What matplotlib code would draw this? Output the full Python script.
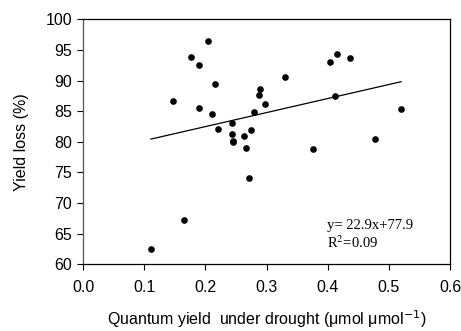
import matplotlib
matplotlib.use("Agg")
import matplotlib.pyplot as plt
import numpy as np

quantum_yield = [0.147, 0.176, 0.189, 0.205, 0.215, 0.190, 0.211, 0.221, 0.244, 0.244,
                 0.246, 0.246, 0.263, 0.275, 0.267, 0.280, 0.289, 0.287, 0.297, 0.330,
                 0.403, 0.415, 0.437, 0.412, 0.520, 0.477, 0.376, 0.111, 0.165, 0.271]
yield_loss = [86.7, 93.8, 92.5, 96.4, 89.4, 85.5, 84.6, 82.1, 83.1, 81.3,
              80.2, 79.9, 81.0, 82.0, 79.0, 84.8, 88.6, 87.6, 86.2, 90.5,
              93.0, 94.3, 93.7, 87.5, 85.4, 80.5, 78.8, 62.5, 67.2, 74.1]
slope, intercept = 22.9, 77.9
eq_text = "y= 22.9x+77.9"
r2_text = r"R$^2$=0.09"
x_ticks = [0.0, 0.1, 0.2, 0.3, 0.4, 0.5, 0.6]
y_ticks = [60, 65, 70, 75, 80, 85, 90, 95, 100]

plt.rcParams['font.family'] = ['Liberation Sans', 'DejaVu Sans']
fig = plt.figure(figsize=(4.61, 3.31), dpi=100)
ax = fig.add_axes([83/461, 1-264.3/331, (450-83)/461, (264.3-19.3)/331])

ax.scatter(quantum_yield, yield_loss, s=23, color='black', zorder=3, linewidths=0)
xl = np.array([min(quantum_yield), max(quantum_yield)])
ax.plot(xl, slope*xl + intercept, color='black', lw=0.9)

ax.set_xlim(0, 0.6)
ax.set_ylim(60, 100)
ax.set_xticks(x_ticks)
ax.set_xticklabels([f"{v:.1f}" for v in x_ticks])
ax.set_yticks(y_ticks)
ax.tick_params(direction='out', length=4, width=0.8, labelsize=11.5, colors='black')
ax.tick_params(axis='x', pad=7)
ax.tick_params(axis='y', pad=4)
for s in ax.spines.values():
    s.set_linewidth(0.9)
ax.spines['left'].set_color('#555555')

ax.set_ylabel("Yield loss (%)", fontsize=11.5, labelpad=12)
ax.set_xlabel("Quantum yield  under drought (\u03bcmol \u03bcmol$^{-1}$)", fontsize=11.5, labelpad=10)

ax.text(0.399, 66.4, eq_text, fontsize=10.5, family=['Liberation Serif'], va='center', ha='left')
ax.text(0.399, 63.5, r2_text, fontsize=10.5, family=['Liberation Serif'], va='center', ha='left',
        math_fontfamily='stix')

fig.savefig("out.png", dpi=100)
